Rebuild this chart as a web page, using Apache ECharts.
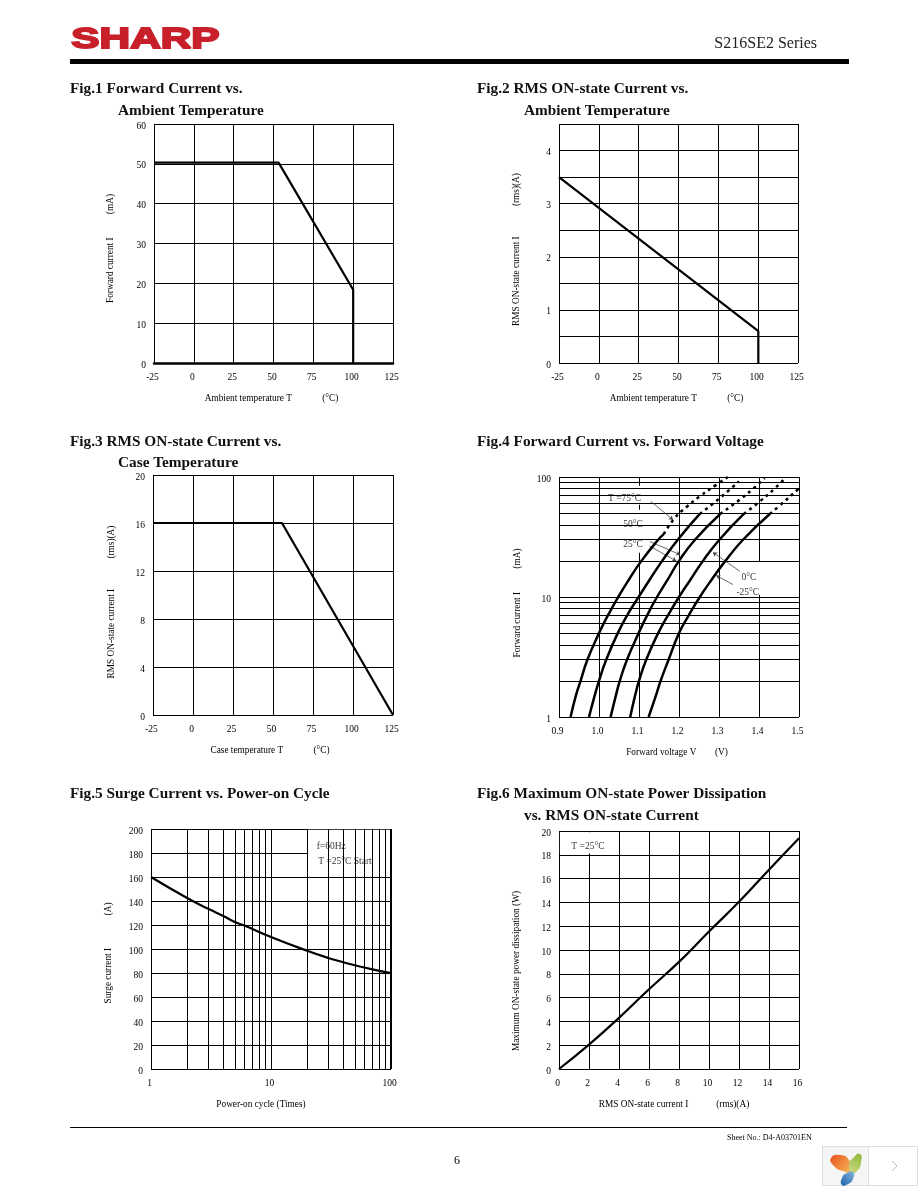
<!DOCTYPE html>
<html><head><meta charset="utf-8">
<style>html,body{margin:0;padding:0;background:#fff}#c{width:918px;height:1188px}</style>
<script src="https://cdn.jsdelivr.net/npm/echarts@6/dist/echarts.min.js"></script>
</head><body><div id="c"></div>
<script>
const SERIF='"Liberation Serif","Times New Roman",serif';
// ---- data ----
const f1X=[-25,53.2,100,100], f1Y=[50.3,50.3,18.4,0];
const f2X=[-25,100.1,100.1], f2Y=[3.5,0.6,0];
const f3X=[-25,55.6,125], f3Y=[16,16,0];
const f4I=[1,1.5,2,3,5,7,10,14,20,30];
const f4Solid={
 '75':[[.929,.942,.954,.971,1.0,1.022,1.048,1.075,1.106,1.148,1.162],[...f4I,33.4]],
 '50':[[.975,.989,1.0,1.018,1.047,1.07,1.099,1.127,1.158,1.197,1.252],[...f4I,49.2]],
 '25':[[1.029,1.042,1.052,1.07,1.099,1.12,1.145,1.172,1.2,1.24,1.303],[...f4I,49.2]],
 '0':[[1.078,1.09,1.1,1.118,1.148,1.172,1.2,1.229,1.26,1.301,1.362],[...f4I,49.2]],
 '-25':[[1.124,1.142,1.154,1.174,1.2,1.224,1.252,1.282,1.316,1.36,1.427],[...f4I,49.2]]
};
const f4Dash={
 '75':[[1.162,1.189,1.219,1.252,1.293,1.322],[33.4,45.4,56.3,69,86,100]],
 '50':[[1.252,1.302,1.35],[49.2,66.7,92]],
 '25':[[1.303,1.352,1.385,1.414],[49.2,64.8,79.7,98]],
 '0':[[1.362,1.402,1.439,1.468],[49.2,62.6,80,100]],
 '-25':[[1.427,1.452,1.497,1.5],[49.2,57.9,78.6,80]]
};
const f4Minor=[2,3,4,5,6,7,8,9,20,30,40,50,60,70,80,90];
const f4Leaders=[[[1.129,62.9],[1.185,44]],[[1.127,29],[1.203,22.5]],[[1.127,26.5],[1.193,20]],[[1.352,16.4],[1.285,23.5]],[[1.335,12.7],[1.293,15.1]]];
const f4Labels=[['T =75°C',1.064,66.8],['50°C',1.085,40],['25°C',1.085,27.6],['0°C',1.375,14.6],['-25°C',1.372,11]];
const f4Boxes=[[[1.017,84.6],[1.129,58.8]],[[1.054,53.4],[1.127,23.4]],[[1.344,19.7],[1.409,10.4]]];
const f5X=[1,2,3,4,5,6,10,20,30,40,50,70,100];
const f5Y=[160,142.5,133.5,127.5,122.5,119.5,110,98.5,92.5,89,86.5,83,80];
const f5Minor=[2,3,4,5,6,7,8,9,20,30,40,50,60,70,80,90];
const f5Edge=[100];
const f5Labels=[['f=60Hz',23.8,185.6],['T =25°C Start',24.5,172.8]];
const f5Box=[[20.4,199.4],[99.4,161]];
const f6X=[0,2,4,6,8,10,12,14,16];
const f6Y=[0,2.05,4.3,6.7,9,11.55,14.05,16.75,19.4];
const f6Labels=[['T =25°C',1.93,18.7]];
const f6Box=[[0.06,19.9],[3.3,18.1]];
const titles=[
 ['Fig.1 Forward Current vs.',70,88],['Ambient Temperature',118,110],
 ['Fig.2 RMS ON-state Current vs.',477,88],['Ambient Temperature',524,110],
 ['Fig.3 RMS ON-state Current vs.',70,441],['Case Temperature',118,462],
 ['Fig.4 Forward Current vs. Forward Voltage',477,441],
 ['Fig.5 Surge Current vs. Power-on Cycle',70,793],
 ['Fig.6 Maximum ON-state Power Dissipation',477,793],['vs. RMS ON-state Current',524,815]
];
const sp=n=>'\u00A0'.repeat(n);
const xNames=['Ambient temperature T'+sp(13)+'(°C)','Ambient temperature T'+sp(13)+'(°C)','Case temperature T'+sp(13)+'(°C)','Forward voltage V'+sp(8)+'(V)','Power-on cycle (Times)','RMS ON-state current I'+sp(12)+'(rms)(A)'];
const yNames=['Forward current I'+sp(10)+'(mA)','RMS ON-state current I'+sp(13)+'(rms)(A)','RMS ON-state current I'+sp(13)+'(rms)(A)','Forward current I'+sp(10)+'(mA)','Surge current I'+sp(14)+'(A)','Maximum ON-state power dissipation (W)'];
// ---- layout ----
const grids=[{left:154,top:124,width:239,height:239},{left:559,top:124,width:239,height:239},{left:153,top:475,width:240,height:240},{left:559,top:477,width:240,height:240},{left:151,top:829,width:240,height:240},{left:559,top:831,width:240,height:238}];
const yShift=[5,6,7,6,4,21], xShift=[2,2,3,2,10,5], yGap=[39,38,37,37,38,38];
const lab={fontFamily:SERIF,fontSize:9.5,color:'#000'};
const split={show:true,lineStyle:{color:'#000',width:1,type:'solid'}};
const yLab=Object.assign({},lab,{margin:8,verticalAlign:'top',lineHeight:4});
function xAxis(i,o){return Object.assign({gridIndex:i,type:'value',name:xNames[i],nameLocation:'middle',nameGap:31,
 nameTextStyle:{fontFamily:SERIF,fontSize:9.3,color:'#000',padding:[0,xShift[i]*2,0,0]},
 axisLine:{show:false},axisTick:{show:false},splitLine:split,
 axisLabel:Object.assign({},lab,{margin:9,padding:[0,3,0,0]})},o);}
function yAxis(i,o){return Object.assign({gridIndex:i,type:'value',name:yNames[i],nameLocation:'middle',nameGap:yGap[i],
 nameTextStyle:{fontFamily:SERIF,fontSize:9.3,color:'#000',padding:[0,yShift[i]*2,0,0]},
 axisLine:{show:false},axisTick:{show:false},splitLine:split,
 axisLabel:yLab},o);}
const tempX={min:-25,max:125,interval:25};
const xAxes=[
 xAxis(0,Object.assign({axisLine:{show:true,onZero:false,lineStyle:{color:'#000',width:2.5}}},tempX)),
 xAxis(1,tempX),xAxis(2,tempX),
 xAxis(3,{min:0.9,max:1.5,interval:0.1,axisLabel:Object.assign({},lab,{margin:9,padding:[0,3,0,0],formatter:v=>v.toFixed(1)})}),
 xAxis(4,{type:'log',logBase:10,min:1,max:100}),
 xAxis(5,{min:0,max:16,interval:2})
];
const yAxes=[
 yAxis(0,{min:0,max:60,interval:10}),
 yAxis(1,{min:0,max:4.5,interval:0.5,axisLabel:Object.assign({},yLab,{formatter:v=>Number.isInteger(v)?String(v):''})}),
 yAxis(2,{min:0,max:20,interval:4}),
 yAxis(3,{type:'log',logBase:10,min:1,max:100}),
 yAxis(4,{min:0,max:200,interval:20}),
 yAxis(5,{min:0,max:20,interval:2})
];
const zip=(a,b)=>a.map((v,i)=>[v,b[i]]);
const series=[];
function curve(i,name,x,y,w,smooth,type){series.push({name,type:'line',xAxisIndex:i,yAxisIndex:i,data:zip(x,y),showSymbol:false,symbol:'none',smooth:smooth,z:5,silent:true,
 lineStyle:{color:'#000',width:w,type:type||'solid',cap:'butt'}});}
function minor(i,axisKey,vals,w){series.push({name:'minor grid',type:'line',xAxisIndex:i,yAxisIndex:i,data:[],z:1,silent:true,
 markLine:{silent:true,symbol:'none',animation:false,label:{show:false},lineStyle:{color:'#000',width:w||1,type:'solid'},data:vals.map(v=>({[axisKey]:v}))}});}
function boxes(i,list){series.push({name:'label box',type:'line',xAxisIndex:i,yAxisIndex:i,data:[],z:2,silent:true,
 markArea:{silent:true,animation:false,itemStyle:{color:'#fff',opacity:1},data:list.map(b=>[{coord:b[0]},{coord:b[1]}])}});}
function notes(i,list,align){series.push({name:'notes',type:'scatter',xAxisIndex:i,yAxisIndex:i,symbolSize:1,z:6,silent:true,
 itemStyle:{color:'rgba(0,0,0,0)'},
 data:list.map(l=>({name:l[0],value:[l[1],l[2]]})),
 label:{show:true,position:align==='left'?'right':'inside',distance:0,formatter:'{b}',fontFamily:SERIF,fontSize:9.5,color:'#000'}});}
curve(0,'Forward current',f1X,f1Y,2.2,false);
curve(1,'RMS current',f2X,f2Y,2.2,false);
curve(2,'RMS current',f3X,f3Y,2.2,false);
minor(3,'yAxis',f4Minor);boxes(3,f4Boxes);
Object.keys(f4Solid).forEach(k=>{curve(3,k+'°C',f4Solid[k][0],f4Solid[k][1],2.5,0.5);curve(3,k+'°C max',f4Dash[k][0],f4Dash[k][1],2.5,0.5,[3,4]);});
series.push({name:'leaders',type:'line',xAxisIndex:3,yAxisIndex:3,data:[],z:4,silent:true,
 markLine:{silent:true,animation:false,symbol:['none','arrow'],symbolSize:4,label:{show:false},lineStyle:{color:'#444',width:0.8,type:'solid'},
  data:f4Leaders.map(l=>[{coord:l[0]},{coord:l[1]}])}});
notes(3,f4Labels);
minor(4,'xAxis',f5Minor);minor(4,'xAxis',f5Edge,2);boxes(4,[f5Box]);
curve(4,'Surge current',f5X,f5Y,2.2,0.5);notes(4,f5Labels,'left');
boxes(5,[f6Box]);
curve(5,'Power dissipation',f6X,f6Y,2.2,0.5);notes(5,f6Labels);
const graphic=[
 {type:'text',left:70,top:25,z:10,scaleX:1.46,style:{text:'SHARP',fontFamily:'"Liberation Sans",Arial,sans-serif',fontWeight:'bold',fontSize:29,fill:'#c8202a',stroke:'#c8202a',lineWidth:1.8}},
 {type:'rect',shape:{x:70,y:59,width:779,height:5},style:{fill:'#000'}},
 {type:'text',x:817,y:44,style:{text:'S216SE2 Series',fontFamily:SERIF,fontSize:16,fill:'#222',textAlign:'right',textVerticalAlign:'middle'}},
 {type:'rect',shape:{x:70,y:1127,width:777,height:1},style:{fill:'#000'}},
 {type:'text',x:727,y:1138,style:{text:'Sheet No.: D4-A03701EN',fontFamily:SERIF,fontSize:8,fill:'#000',textVerticalAlign:'middle'}},
 {type:'text',x:457,y:1161,style:{text:'6',fontFamily:SERIF,fontSize:12,fill:'#000',textAlign:'center',textVerticalAlign:'middle'}},
 {type:'rect',shape:{x:822.5,y:1146.5,width:46,height:39},style:{fill:'#f5f5f5',stroke:'#ddd',lineWidth:1}},
 {type:'rect',shape:{x:868.5,y:1146.5,width:49,height:39},style:{fill:'#fff',stroke:'#ddd',lineWidth:1}},
 {type:'polyline',shape:{points:[[892,1161],[897,1166],[892,1171]]},style:{fill:null,stroke:'#bbb',lineWidth:1}},
 {type:'polygon',shape:{smooth:0.6,points:[[831,1158],[840,1155],[849,1160],[854,1173],[843,1171],[834,1166]]},style:{fill:{type:'linear',x:0,y:0,x2:1,y2:1,colorStops:[{offset:0,color:'#e8501e'},{offset:1,color:'#f8c860'}]}}},
 {type:'polygon',shape:{smooth:0.6,points:[[860,1154],[861,1163],[857,1171],[852,1173],[849,1165],[853,1158]]},style:{fill:{type:'linear',x:1,y:0,x2:0,y2:1,colorStops:[{offset:0,color:'#8fb838'},{offset:1,color:'#cfdc88'}]}}},
 {type:'polygon',shape:{smooth:0.6,points:[[842,1185],[842,1178],[847,1173],[853,1172],[853,1179],[848,1184]]},style:{fill:{type:'linear',x:0,y:1,x2:1,y2:0,colorStops:[{offset:0,color:'#1860a8'},{offset:1,color:'#88b8e0'}]}}}
];
const chart=echarts.init(document.getElementById('c'),null,{renderer:'canvas'});
chart.setOption({animation:false,backgroundColor:'#fff',
 title:titles.map(t=>({text:t[0],left:t[1],top:t[2]-6,padding:0,textStyle:{fontFamily:SERIF,fontSize:15.3,fontWeight:'bold',color:'#111'}})),
 grid:grids,xAxis:xAxes,yAxis:yAxes,series,graphic});
</script></body></html>
